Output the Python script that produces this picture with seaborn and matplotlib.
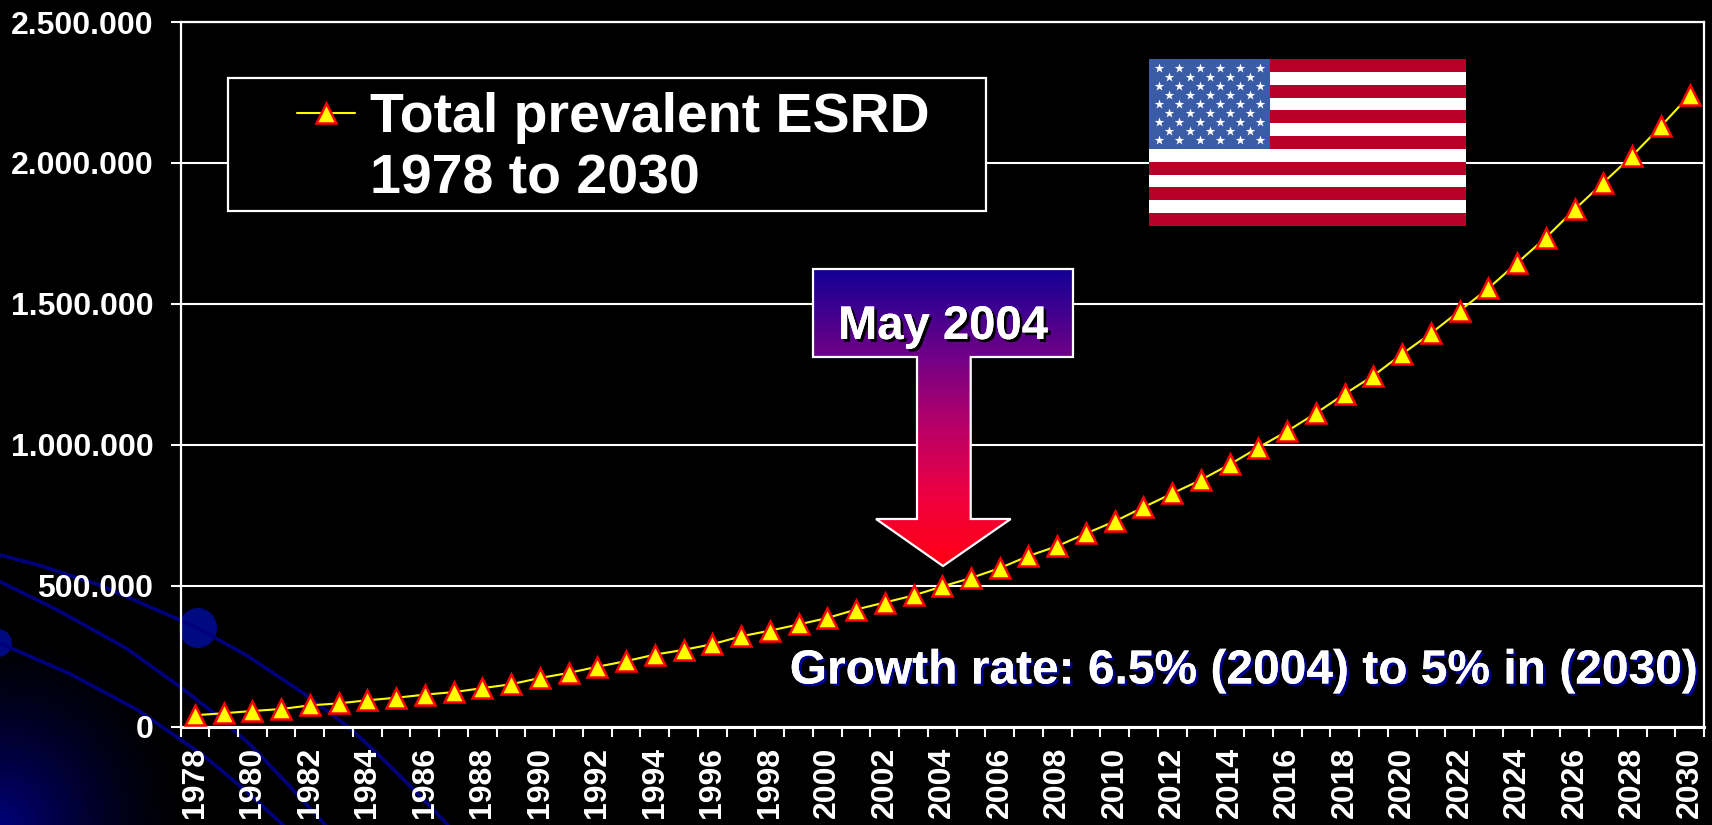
import numpy as np
import pandas as pd
import seaborn as sns
import matplotlib
matplotlib.use("Agg")
import matplotlib.pyplot as plt
from matplotlib.colors import LinearSegmentedColormap
from matplotlib.lines import Line2D
from matplotlib.patches import Polygon, Rectangle, Ellipse
import matplotlib.patheffects as pe

years = list(range(1978, 2031))
total_esrd = [40000, 47000, 55000, 62000, 75000, 82000, 93000, 102000, 113000, 122000,
              136000, 150000, 172000, 190000, 212000, 232000, 255000, 272000, 292000, 320000,
              340000, 362000, 385000, 415000, 440000, 465000, 497000, 527000, 562000, 605000,
              640000, 685000, 728000, 778000, 827000, 875000, 930000, 990000, 1048000, 1112000,
              1180000, 1245000, 1322000, 1395000, 1475000, 1555000, 1645000, 1735000, 1835000,
              1930000, 2025000, 2130000, 2240000]
y_ticks = [0, 500000, 1000000, 1500000, 2000000, 2500000]
y_labels = ["0", "500.000", "1.000.000", "1.500.000", "2.000.000", "2.500.000"]
x_label_years = years[::2]

W, H = 1712, 825
sns.set_theme(style="dark")
plt.rcParams["font.family"] = ["Liberation Sans", "DejaVu Sans"]
plt.rcParams["font.weight"] = "bold"

fig = plt.figure(figsize=(W / 100, H / 100), dpi=100, facecolor="black")

# Slide background
bg = fig.add_axes([0, 0, 1, 1], zorder=0)
bg.set_xlim(0, W); bg.set_ylim(H, 0); bg.axis("off")
xx, yy = np.meshgrid(np.arange(0, 260), np.arange(600, H))
dist = np.sqrt((xx / 190.0) ** 2 + ((H - yy) / 200.0) ** 2)
glow = np.clip(1 - dist, 0, 1)
rgba = np.zeros(glow.shape + (4,))
rgba[..., 2] = 0.48
rgba[..., 3] = glow ** 1.5
bg.imshow(rgba, extent=(0, 260, H, 600), aspect="auto", interpolation="bilinear")
bg.set_xlim(0, W); bg.set_ylim(H, 0)

zx, zy = 2.613, 3.0
curves = [
    [(0,165),(100,195),(260,255),(470,360),(518,385),(650,470),(800,585),(920,690),(985,760),(1100,890),(1170,975)],
    [(0,245),(150,330),(330,445),(470,560),(560,640),(650,730),(750,850),(850,975)],
    [(0,430),(180,520),(360,630),(530,765),(640,870),(740,975)],
]
for c in curves:
    c = np.array(c, float)
    bg.plot(c[:, 0] / zx, 500 + c[:, 1] / zy, color="#00007f", lw=2.6, solid_capstyle="round")
bg.add_patch(Ellipse((198, 628), 38, 40, color="#000a80", lw=0))
bg.add_patch(Ellipse((-2, 643), 28, 28, color="#000a80", lw=0))

# Main chart
L, R, T, B = 180.5, 1704, 22, 726.5
ax = fig.add_axes([L / W, 1 - B / H, (R - L) / W, (B - T) / H], zorder=1)
ax.patch.set_alpha(0)
df = pd.DataFrame({"year": years, "total": total_esrd})
ax.set_axisbelow(True)
sns.lineplot(data=df, x="year", y="total", ax=ax, color="#ffff00", lw=1.5, marker="^",
             ms=15, mfc="#ffff00", mec="#ff0000", mew=1.8, label="Total prevalent ESRD",
             zorder=5, clip_on=False, legend=False)
ax.set_xlim(1977.5, 2030.5)
ax.set_ylim(0, 2500000)
ax.set_xlabel(""); ax.set_ylabel("")
ax.set_yticks(y_ticks)
ax.set_yticklabels(y_labels, fontsize=23, fontweight="bold", color="white")
ax.set_xticks(x_label_years)
ax.set_xticklabels(x_label_years, rotation=90, fontsize=23, fontweight="bold", color="white")
ax.set_xticks(np.arange(1977.5, 2031), minor=True)
ax.tick_params(axis="x", which="major", length=0, pad=14.5)
ax.tick_params(axis="x", which="minor", length=7.5, width=1.5, color="white", bottom=True)
ax.tick_params(axis="y", which="major", length=7.5, width=1.5, color="white", pad=12, left=True)
ax.grid(False)
ax.grid(axis="y", color="white", lw=1.5)
for s in ax.spines.values():
    s.set_visible(True); s.set_color("white"); s.set_linewidth(1.6)
ax.spines["bottom"].set_linewidth(2.2)
ax.spines["bottom"].set_zorder(4)

# Overlay: legend box, flag, callout, note
ov = fig.add_axes([0, 0, 1, 1], zorder=2)
ov.patch.set_alpha(0); ov.axis("off")
ov.add_patch(Rectangle((228, 77.5), 758, 133.5, fc="black", ec="white", lw=1.6))

# Flag
fx0, fx1, fy0, fy1 = 1149, 1466, 59, 226
sh = (fy1 - fy0) / 13
for i in range(13):
    ov.add_patch(Rectangle((fx0, fy0 + i * sh), fx1 - fx0, sh, fc="#b80026" if i % 2 == 0 else "white", lw=0))
cw = 121
ov.add_patch(Rectangle((fx0, fy0), cw, 7 * sh, fc="#3a5ba6", lw=0))
sx, sy = [], []
for r in range(9):
    n = 6 if r % 2 == 0 else 5
    for k in range(n):
        off = 0.5 if r % 2 else 0
        sx.append(fx0 + cw * (0.085 + (k + off) * 0.167))
        sy.append(fy0 + 7 * sh * (0.095 + r * 0.101))
ov.scatter(sx, sy, marker="*", s=52, c="white", lw=0)

# Callout arrow with vertical gradient
cm = LinearSegmentedColormap.from_list("callout", [
    (0.0, (20/255, 0, 150/255)), (0.30, (115/255, 0, 135/255)),
    (0.55, (190/255, 0, 100/255)), (0.78, (240/255, 0, 60/255)), (1.0, (1, 0, 20/255))])
outline = [(813,269),(1073,269),(1073,357),(970.7,357),(970.7,519),(1010.7,519),(943,566),
           (876,519),(917,519),(917,357),(813,357)]
poly = Polygon(outline, closed=True, fc="none", ec="white", lw=1.6, joinstyle="miter", zorder=4)
grad = np.linspace(0, 1, 300).reshape(-1, 1)
im = ov.imshow(grad, extent=(813, 1073, 566, 269), cmap=cm, aspect="auto", zorder=3)
ov.add_patch(poly)
im.set_clip_path(poly)
ov.set_xlim(0, W); ov.set_ylim(H, 0)

ov.text(943, 327, "May 2004", color="white", fontsize=34, fontweight="bold", ha="center", va="center",
        zorder=5, path_effects=[pe.withSimplePatchShadow(offset=(2, -2), shadow_rgbFace="black", alpha=1), pe.Normal()])
ov.text(1697, 671, "Growth rate: 6.5% (2004) to 5% in (2030)", color="white", fontsize=34.5, fontweight="bold",
        ha="right", va="center", zorder=5,
        path_effects=[pe.withSimplePatchShadow(offset=(1.8, -1.8), shadow_rgbFace="#00008c", alpha=1), pe.Normal()])

# Legend
main_line = ax.get_lines()[0]
handles = [main_line, Line2D([], [], alpha=0)]
leg = ov.legend(handles, ["Total prevalent ESRD", "1978 to 2030"], loc="upper left",
                bbox_to_anchor=(297 / W, 1 - 92 / H), frameon=False, prop={"size": 40, "weight": "bold"},
                labelcolor="white", borderpad=0, borderaxespad=0, handlelength=1.05, handletextpad=0.26,
                labelspacing=0.18, numpoints=1)

fig.savefig("out.png", dpi=100, facecolor="black")
